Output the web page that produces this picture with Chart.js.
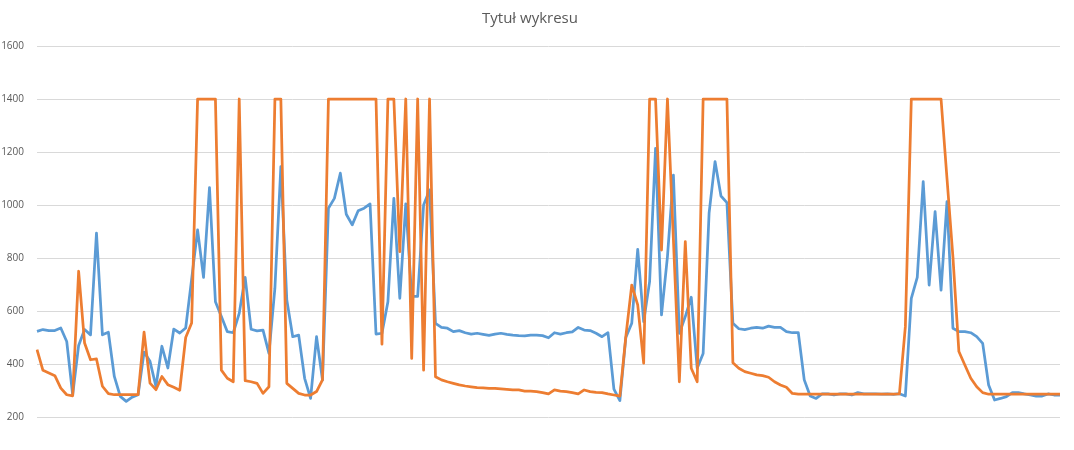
<!DOCTYPE html>
<html>
<head>
<meta charset="utf-8">
<title>Tytuł wykresu</title>
<script src="https://cdn.jsdelivr.net/npm/chart.js@4.4.1/dist/chart.umd.min.js"></script>
<style>
  html, body { margin: 0; padding: 0; background: #ffffff; }
  #wrap { width: 1074px; height: 450px; }
</style>
</head>
<body>
<div id="wrap"><canvas id="chart" width="1074" height="450"></canvas></div>
<script>
const chartTitle = 'Tytuł wykresu';
const seriesNames = ['Seria1', 'Seria2'];

// blue series, 173 points
const blue = [
  523, 530, 526, 526, 536, 485, 284, 470, 530, 510,
  894, 510, 520, 353, 278, 259, 275, 284, 445, 410,
  315, 467, 385, 532, 517, 536, 720, 906, 727, 1066,
  635, 579, 522, 518, 591, 727, 531, 525, 528, 440,
  686, 1145, 642, 503, 509, 346, 270, 503, 340, 988,
  1025, 1120, 965, 925, 978, 988, 1004, 513, 516, 635,
  1025, 648, 1004, 655, 655, 1000, 1057, 553, 538, 535,
  522, 526, 518, 513, 516, 512, 508, 513, 516, 512,
  509, 507, 506, 509, 509, 507, 499, 518, 513, 518,
  521, 538, 528, 526, 516, 503, 518, 305, 262, 500,
  554, 833, 560, 711, 1214, 585, 805, 1113, 516, 579,
  652, 384, 440, 969, 1164, 1034, 1009, 554, 533, 530,
  535, 538, 535, 543, 538, 538, 522, 518, 518, 340,
  279, 270, 287, 287, 283, 287, 287, 283, 292, 287,
  287, 287, 286, 287, 285, 288, 279, 648, 727, 1088,
  698, 975, 679, 1013, 535, 522, 522, 518, 503, 478,
  321, 264, 270, 277, 292, 292, 287, 283, 279, 279,
  287, 283, 283
];

// orange series, 173 points
const orange = [
  454, 376, 366, 356, 309, 284, 280, 750, 479, 416,
  419, 316, 288, 284, 284, 284, 284, 284, 520, 328,
  303, 353, 322, 312, 301, 500, 555, 1400, 1400, 1400,
  1400, 377, 346, 333, 1400, 337, 333, 327, 289, 314,
  1400, 1400, 327, 308, 289, 283, 283, 296, 340, 1400,
  1400, 1400, 1400, 1400, 1400, 1400, 1400, 1400, 475, 1400,
  1400, 824, 1400, 421, 1400, 377, 1400, 352, 340, 333,
  327, 321, 317, 314, 311, 310, 308, 308, 306, 304,
  302, 302, 298, 298, 296, 292, 287, 302, 298, 296,
  292, 287, 302, 296, 293, 292, 287, 283, 279, 503,
  698, 623, 403, 1400, 1400, 830, 1400, 870, 333, 862,
  384, 333, 1400, 1400, 1400, 1400, 1400, 405, 384, 371,
  365, 359, 356, 350, 333, 321, 312, 289, 286, 286,
  286, 286, 286, 286, 286, 286, 286, 286, 286, 286,
  286, 286, 286, 286, 286, 287, 541, 1400, 1400, 1400,
  1400, 1400, 1400, 1100, 803, 447, 396, 346, 314, 292,
  286, 286, 286, 286, 286, 286, 286, 286, 286, 286,
  286, 286, 286
];

const categories = blue.map((_, i) => String(i + 1));

const yMin = 200;
const yMax = 1600;
const yStep = 200;

const textColor = '#595959';
const font = '"Open Sans", "Liberation Sans", sans-serif';

const ctx = document.getElementById('chart').getContext('2d');
new Chart(ctx, {
  type: 'line',
  data: {
    labels: categories,
    datasets: [
      {
        label: seriesNames[0],
        data: blue,
        borderColor: '#5B9BD5',
        backgroundColor: '#5B9BD5',
        borderWidth: 2.75,
        pointRadius: 0,
        tension: 0,
        borderJoinStyle: 'round',
        order: 2
      },
      {
        label: seriesNames[1],
        data: orange,
        borderColor: '#ED7D31',
        backgroundColor: '#ED7D31',
        borderWidth: 2.75,
        pointRadius: 0,
        tension: 0,
        borderJoinStyle: 'round',
        order: 1
      }
    ]
  },
  options: {
    responsive: false,
    animation: false,
    layout: { padding: { left: 0, right: 14, top: 0, bottom: 33 } },
    plugins: {
      legend: { display: false },
      tooltip: { enabled: false },
      title: {
        display: true,
        text: chartTitle,
        color: textColor,
        font: { family: font, size: 15, weight: 'normal' },
        padding: { top: 10, bottom: 18 }
      }
    },
    scales: {
      x: { display: false },
      y: {
        min: yMin,
        max: yMax,
        afterFit: (scale) => { scale.width = 37; },
        ticks: {
          stepSize: yStep,
          color: textColor,
          padding: 13,
          font: { family: font, size: 10 },
          callback: (v) => String(v)
        },
        grid: { color: '#d9d9d9', lineWidth: 1, drawTicks: false },
        border: { display: false }
      }
    }
  }
});
</script>
</body>
</html>
